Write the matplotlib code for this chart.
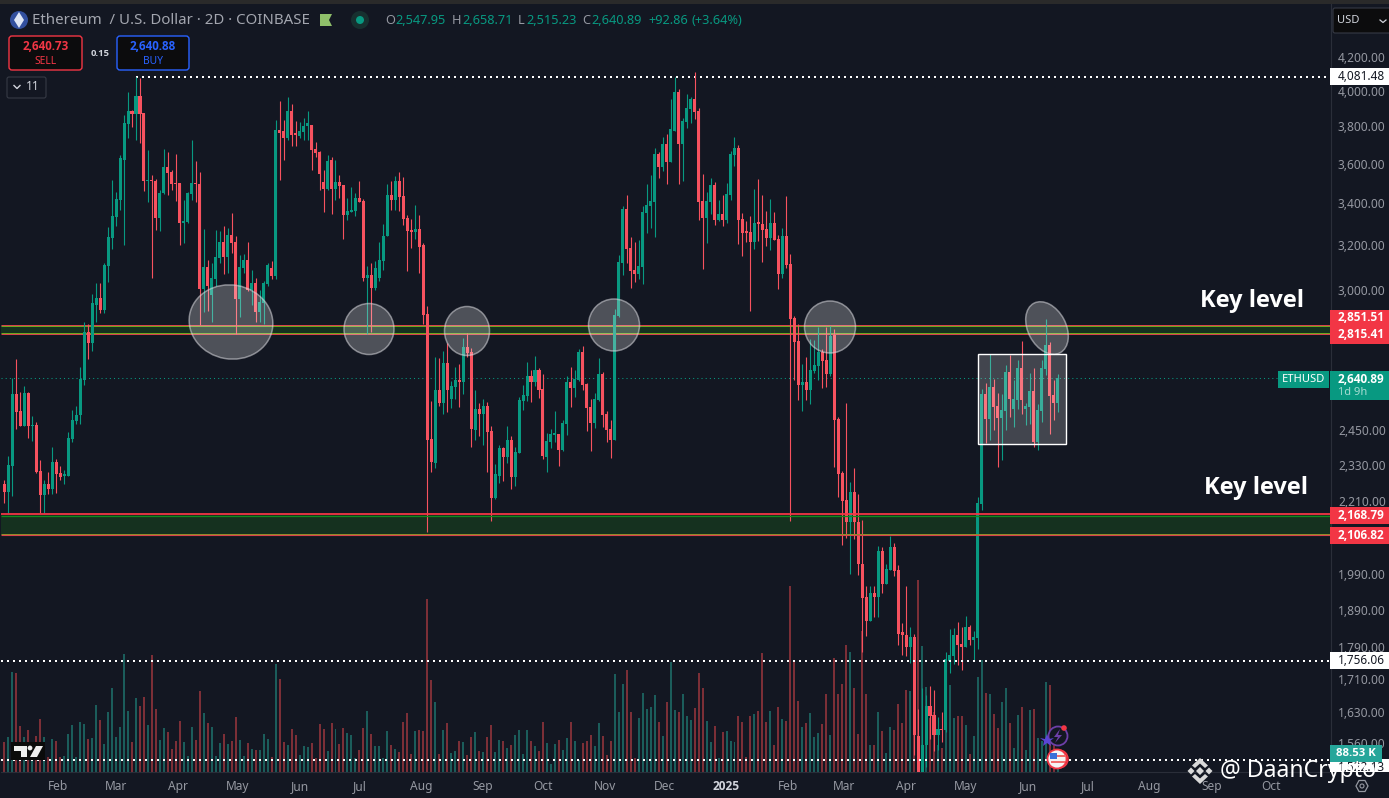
import numpy as np
import pandas as pd
import matplotlib
matplotlib.use("Agg")
import matplotlib.pyplot as plt
from matplotlib.patches import Ellipse, Rectangle, Polygon, Circle, FancyBboxPatch

# 2D candles, first bar is 2024-01-05
opens = [2268,2241,2327,2582,2519,2465,2586,2465,2469,2310,
         2232,2268,2251,2340,2304,2294,2294,2420,2483,2505,
         2634,2823,2779,2937,2966,2915,3106,3234,3334,3416,
         3620,3813,3886,3870,3970,3875,3512,3517,3512,3329,
         3451,3583,3558,3502,3502,3306,3311,3446,3502,3497,
         3004,3100,2979,3048,3142,3215,3147,3249,3215,2962,
         3095,3133,3000,3030,2907,2945,3026,3095,3061,3780,
         3775,3737,3886,3764,3748,3769,3802,3808,3678,3663,
         3507,3471,3620,3471,3507,3492,3344,3358,3363,3426,
         3411,3052,3066,3009,3052,3129,3244,3440,3416,3512,
         3436,3329,3272,3263,3277,3201,2898,2420,2337,2597,
         2549,2699,2564,2608,2634,2627,2763,2743,2451,2527,
         2509,2538,2448,2222,2294,2388,2357,2416,2291,2371,
         2556,2575,2649,2627,2673,2600,2357,2409,2434,2437,
         2381,2473,2627,2604,2634,2743,2619,2534,2476,2560,
         2657,2509,2455,2416,2890,3118,3373,3187,3088,3070,
         3100,3354,3387,3406,3652,3583,3705,3610,3775,3993,
         3705,3824,3897,3952,3886,3411,3329,3406,3492,3320,
         3349,3320,3440,3646,3684,3325,3263,3263,3215,3306,
         3301,3277,3234,3306,3230,3070,3244,3114,2882,2787,
         2615,2627,2597,2669,2688,2743,2711,2657,2811,2490,
         2304,2216,2147,2241,2144,2020,1924,1860,1937,1924,
         2056,1963,2003,2068,2003,1829,1823,1792,1818,1574,
         1470,1555,1645,1624,1576,1590,1588,1756,1769,1823,
         1800,1792,1844,1808,1815,2203,2582,2490,2608,2538,
         2494,2519,2665,2527,2560,2680,2527,2534,2593,2409,
         2519,2677,2771,2578,2547.95]
closes = [2241,2330,2582,2516,2465,2586,2465,2469,2307,2232,
          2268,2251,2340,2301,2291,2298,2423,2487,2505,2638,
          2823,2779,2945,2966,2915,3110,3239,3339,3421,3630,
          3819,3886,3870,3970,3870,3512,3517,3512,3329,3451,
          3583,3553,3497,3497,3306,3315,3451,3502,3497,3004,
          3100,3017,3052,3147,3215,3147,3249,3210,2962,3100,
          3133,3000,3030,2907,2949,3030,3110,3061,3780,3764,
          3737,3886,3753,3753,3775,3802,3819,3673,3658,3548,
          3471,3615,3471,3507,3487,3344,3363,3368,3426,3406,
          3052,3066,3009,3095,3133,3244,3440,3416,3512,3431,
          3325,3268,3263,3277,3192,2894,2416,2340,2597,2549,
          2699,2597,2612,2634,2627,2763,2739,2455,2527,2509,
          2538,2444,2222,2298,2388,2357,2416,2291,2374,2560,
          2578,2649,2627,2673,2597,2360,2412,2437,2437,2381,
          2476,2627,2604,2638,2743,2615,2530,2476,2564,2657,
          2505,2451,2416,2894,3124,3373,3182,3084,3070,3106,
          3358,3392,3411,3652,3583,3705,3610,3785,3993,3705,
          3830,3902,3952,3880,3406,3329,3411,3492,3320,3349,
          3320,3446,3652,3684,3320,3258,3258,3215,3306,3301,
          3272,3234,3306,3225,3070,3244,3110,2877,2783,2615,
          2627,2597,2673,2692,2743,2707,2657,2807,2487,2301,
          2213,2147,2241,2144,2018,1921,1860,1937,1924,2056,
          1963,2006,2068,2000,1826,1821,1792,1818,1578,1470,
          1555,1645,1621,1576,1590,1588,1759,1771,1823,1797,
          1792,1844,1808,1818,2206,2582,2490,2608,2534,2494,
          2523,2665,2564,2564,2680,2560,2538,2593,2409,2523,
          2680,2771,2575,2548,2640.89]
highs = [2280,2360,2642,2715,2590,2612,2590,2501,2480,2347,
         2281,2307,2391,2350,2327,2314,2444,2523,2538,2684,
         2865,2856,2983,3030,3030,3118,3286,3517,3456,3646,
         3863,3993,3891,4081,4075,3875,3673,3542,3522,3466,
         3678,3663,3568,3652,3502,3416,3456,3726,3615,3558,
         3277,3133,3118,3272,3268,3291,3282,3354,3244,3155,
         3160,3215,3088,3052,3000,3040,3118,3127,3835,3941,
         3835,3965,3924,3830,3824,3846,3886,3808,3715,3668,
         3568,3646,3636,3620,3542,3492,3426,3482,3451,3512,
         3421,3106,3118,3127,3215,3300,3497,3512,3537,3558,
         3532,3344,3325,3392,3344,3210,2932,2556,2723,2719,
         2747,2779,2630,2684,2696,2799,2819,2759,2597,2549,
         2564,2553,2465,2334,2398,2391,2465,2430,2391,2571,
         2615,2704,2673,2726,2680,2657,2441,2455,2519,2437,
         2487,2649,2684,2673,2755,2767,2623,2564,2586,2719,
         2665,2519,2487,2919,3155,3387,3440,3239,3215,3225,
         3387,3497,3542,3684,3663,3742,3758,3952,4081,4010,
         3846,3982,3965,4108,3902,3548,3456,3527,3507,3416,
         3440,3502,3668,3742,3700,3354,3315,3339,3471,3522,
         3440,3363,3421,3358,3249,3282,3436,3160,2890,2856,
         2696,2723,2795,2791,2843,2755,2843,2848,2835,2498,
         2310,2549,2274,2320,2235,2153,1957,1957,1957,2071,
         2068,2018,2104,2080,2015,1855,1957,1844,1826,1638,
         1689,1670,1692,1684,1618,1631,1779,1837,1842,1858,
         1844,1874,1850,1834,2225,2600,2623,2735,2638,2586,
         2582,2692,2731,2634,2711,2787,2549,2660,2680,2545,
         2711,2877,2783,2634,2658.71]
lows = [2206,2172,2229,2455,2465,2465,2423,2412,2304,2172,
        2172,2235,2235,2238,2281,2265,2294,2409,2473,2473,
        2615,2715,2747,2865,2902,2902,3035,3182,3291,3368,
        3201,3737,3797,3726,3710,3461,3406,3052,3272,3268,
        3446,3440,3466,3411,3201,3210,3306,3416,3406,2852,
        2907,2911,2865,3017,3118,3070,3075,3165,2815,2885,
        3075,2995,2936,2865,2865,2856,3017,3048,3048,3517,
        3620,3726,3695,3695,3737,3726,3726,3568,3636,3466,
        3358,3466,3349,3416,3426,3230,3320,3358,3339,3406,
        3040,2815,2823,3000,3040,3088,3244,3368,3368,3363,
        3296,3084,3187,3230,3075,2856,2116,2307,2320,2538,
        2509,2516,2530,2564,2534,2582,2725,2391,2416,2430,
        2398,2307,2150,2219,2271,2278,2337,2251,2261,2371,
        2523,2556,2553,2612,2568,2350,2307,2388,2409,2327,
        2378,2434,2534,2571,2630,2597,2448,2378,2458,2556,
        2462,2409,2353,2416,2885,3066,3118,3009,3035,3048,
        3026,3258,3282,3239,3527,3563,3497,3610,3775,3497,
        3512,3791,3819,3841,3320,3092,3210,3349,3296,3315,
        3291,3306,3416,3589,3206,3150,3215,2911,3182,3220,
        3124,3197,3178,3225,3004,3052,3095,2150,2634,2560,
        2519,2560,2545,2662,2634,2604,2608,2649,2324,2225,
        2074,2095,1991,2092,1988,1777,1820,1860,1871,1871,
        1937,1963,2003,1983,1797,1771,1769,1751,1533,1385,
        1440,1505,1567,1540,1544,1562,1583,1724,1748,1746,
        1733,1792,1797,1756,1787,2184,2405,2416,2451,2324,
        2347,2451,2498,2462,2527,2509,2469,2473,2391,2381,
        2480,2654,2437,2487,2515.23]
# thousands of ETH
volumes = [140,163,466,461,214,163,196,134,168,247,
           163,70,154,144,70,75,177,219,70,233,
           224,154,158,312,242,130,280,391,163,210,
           550,284,140,345,307,349,219,545,294,149,
           205,186,107,144,238,140,75,210,149,377,
           275,228,210,75,135,177,130,144,256,149,
           75,135,107,102,102,177,154,70,503,433,
           140,126,200,172,79,121,116,135,65,224,
           200,98,228,200,130,205,182,172,65,102,
           205,284,177,121,121,65,191,126,107,93,
           233,275,84,191,196,191,806,429,326,84,
           196,228,89,98,144,140,79,163,186,98,
           93,163,219,93,149,144,112,126,172,196,
           84,196,144,121,98,233,135,37,130,149,
           102,158,233,144,56,135,144,172,121,228,
           168,79,144,457,280,410,475,280,65,252,
           368,294,303,359,233,168,326,512,289,280,
           363,261,242,298,461,391,238,140,214,65,
           186,191,144,140,261,233,70,261,270,284,
           554,233,284,126,303,247,238,867,512,331,
           210,228,275,163,182,224,363,172,531,363,
           410,592,559,391,177,657,363,126,126,280,
           191,89,210,196,317,228,382,377,380,895,
           587,396,250,280,126,112,430,405,252,261,
           261,219,84,168,443,522,368,363,270,205,
           326,391,228,112,266,303,102,289,294,158,
           144,419,405,130,88.53]

month_dates = ["2024-02-01","2024-03-01","2024-04-01","2024-05-01","2024-06-01","2024-07-01",
               "2024-08-01","2024-09-01","2024-10-01","2024-11-01","2024-12-01","2025-01-01",
               "2025-02-01","2025-03-01","2025-04-01","2025-05-01","2025-06-01","2025-07-01",
               "2025-08-01","2025-09-01","2025-10-01"]
month_labels = ["Feb","Mar","Apr","May","Jun","Jul","Aug","Sep","Oct","Nov","Dec","2025",
                "Feb","Mar","Apr","May","Jun","Jul","Aug","Sep","Oct"]
price_ticks = [4200,4000,3800,3600,3400,3200,3000,2450,2330,2210,1990,1890,1790,1710,1630,1560]
price_tick_labels = ["4,200.00","4,000.00","3,800.00","3,600.00","3,400.00","3,200.00","3,000.00",
                     "2,450.00","2,330.00","2,210.00","1,990.00","1,890.00","1,790.00","1,710.00",
                     "1,630.00","1,560.00"]
upper_zone = [2815.41, 2851.51]
lower_zone = [2106.82, 2168.79]
dotted_levels = [4081.48, 1756.06, 1522.13]
last_price = 2640.89

BG = "#131722"
GREEN = "#089981"
RED = "#f7525f"
GREY = "#9598a1"
FONT = "Noto Sans"
BOLD = "Open Sans"

plt.rcParams["font.family"] = [FONT, "DejaVu Sans"]

o = np.array(opens, float)
c = np.array(closes, float)
h = np.array(highs, float)
l = np.array(lows, float)
v = np.array(volumes, float)
x = np.arange(len(c))
up = c >= o
colors = np.where(up, GREEN, RED)

fig = plt.figure(figsize=(13.89, 7.98), dpi=100, facecolor=BG)
rect = [1/1389, 26/798, 1330/1389, 768/798]
xlim = (-0.835, 332.5)

# volume sits behind the candles
vol_ax = fig.add_axes(rect, zorder=1, facecolor=BG)
vol_ax.bar(x, v, width=0.5, color=np.where(up, "#1b5d5b", "#7c2f37"), linewidth=0)
vol_ax.set_xlim(*xlim)
vol_ax.set_ylim(0, 3579)
vol_ax.axis("off")

ax = fig.add_axes(rect, zorder=2)
ax.patch.set_visible(False)
ax.set_yscale("log")
ax.set_xlim(*xlim)
ax.set_ylim(1495, 4535)

for z in (upper_zone, lower_zone):
    ax.axhspan(z[0], z[1], color="#15311f", lw=0, zorder=1)
ax.hlines(upper_zone[1], *xlim, color="#d9434b", lw=0.72, zorder=1.5)
ax.hlines(upper_zone[1]*0.9985, *xlim, color="#6fa51f", lw=0.72, zorder=1.5)
ax.hlines(upper_zone[0]*1.0015, *xlim, color="#6fa51f", lw=0.72, zorder=1.5)
ax.hlines(upper_zone[0], *xlim, color="#d9434b", lw=0.72, zorder=1.5)
ax.hlines(lower_zone[1]*1.0008, *xlim, color="#f23645", lw=1.3, zorder=3.5)
ax.hlines(lower_zone[1]*0.998, *xlim, color="#138a1c", lw=0.9, zorder=3.5)
ax.hlines(lower_zone[0]*1.0012, *xlim, color="#8f8f2a", lw=0.72, zorder=3.5)
ax.hlines(lower_zone[0]*0.9988, *xlim, color="#d9434b", lw=0.8, zorder=3.5)

ax.hlines(last_price, xlim[0], 319, color=GREEN, lw=0.75, ls=(0, (1, 3)), zorder=1.5)

ax.vlines(x, l, h, colors=colors, lw=0.8, zorder=3)
body_low = np.minimum(o, c)
body_top = np.maximum(np.maximum(o, c), body_low*1.002)
ax.bar(x, body_top-body_low, bottom=body_low, width=0.76, color=colors, linewidth=0, zorder=3.2)

ax.hlines(dotted_levels[0], 33, xlim[1], color="white", lw=1.44, ls=(0, (1, 2)), zorder=2.5)
ax.hlines(dotted_levels[1:], *xlim, color="white", lw=1.44, ls=(0, (1, 2)), zorder=4)

ax.yaxis.tick_right()
ax.set_yticks(price_ticks, price_tick_labels)
ax.minorticks_off()
start = pd.Timestamp("2024-01-05")
ax.set_xticks([(pd.Timestamp(d)-start).days/2 for d in month_dates], month_labels)
ax.tick_params(axis="y", length=0, pad=5, labelsize=8.6, labelcolor=GREY)
ax.tick_params(axis="x", length=0, pad=6, labelsize=8.6, labelcolor=GREY)
for t in ax.get_xticklabels():
    if t.get_text() == "2025":
        t.set_color("#d1d4dc")
        t.set_fontweight("bold")
        t.set_family(BOLD)
for s in ("top", "left"):
    ax.spines[s].set_visible(False)
for s in ("right", "bottom"):
    ax.spines[s].set_color("#2a2e39")

# everything else is screen furniture, placed in pixels
ui = fig.add_axes([0, 0, 1, 1], zorder=3)
ui.set_xlim(0, 1389)
ui.set_ylim(798, 0)
ui.axis("off")
fig.canvas.draw()


def py(price):
    return 798 - ax.transData.transform((0, price))[1]


def tag(y, text, bg, fg, bold=False, x0=1330, x1=1389, hgt=17):
    ui.add_patch(Rectangle((x0, y-hgt/2), x1-x0, hgt, color=bg, lw=0, zorder=5))
    ui.text(x0+8, y, text, color=fg, fontsize=8.5, fontweight="bold" if bold else "normal",
            family=BOLD if bold else FONT, va="center", ha="left", zorder=6)


ui.add_patch(Rectangle((0, 0), 1389, 4, color="#2a2a2a", lw=0))

# hand drawn circles and the range box
for cx, cy, w, hh, ang in [(231, 322, 84, 74, 10), (369, 329, 50, 51, 0), (467, 331, 45, 49, 0),
                           (614, 325, 51, 52, 0), (830, 327, 51, 52, 0), (1047, 328, 56, 38, 62)]:
    ui.add_patch(Ellipse((cx, cy), w, hh, angle=ang, facecolor=(1, 1, 1, 0.25),
                         edgecolor=(0.85, 0.85, 0.87, 0.55), lw=1.1, zorder=2))
ui.add_patch(Rectangle((977.5, 353.5), 88, 90.5, facecolor=(1, 1, 1, 0.2), edgecolor="white", lw=1.0, zorder=2))

ui.text(1252.5, 301, "Key level", color="white", fontsize=17, fontweight="bold", family=BOLD,
        ha="center", va="center", zorder=3)
ui.text(1256.5, 488, "Key level", color="white", fontsize=17, fontweight="bold", family=BOLD,
        ha="center", va="center", zorder=3)

# header
ui.add_patch(Circle((19, 20), 9, color="#33509e", lw=0))
ui.add_patch(Polygon([(19, 12), (24, 20), (19, 28), (14, 20)], color="#dfe6f5", lw=0))
ui.text(32, 20, "Ethereum  / U.S. Dollar · 2D · COINBASE", color="#a3a6af", fontsize=10.8, va="center")
ui.add_patch(Polygon([(320, 14), (332, 14), (329, 20), (332, 26), (320, 26)], color="#8fbf6a", lw=0))
ui.add_patch(Circle((360, 20), 9, color="#17302f", lw=0))
ui.add_patch(Circle((360, 20), 4, color=GREEN, lw=0))
for px, s, col in [(385, "O", GREY), (395, "2,547.95", GREEN), (452, "H", GREY), (462, "2,658.71", GREEN),
                   (518, "L", GREY), (526, "2,515.23", GREEN), (582, "C", GREY), (591, "2,640.89", GREEN),
                   (648, "+92.86", GREEN), (691, "(+3.64%)", GREEN)]:
    ui.text(px, 20, s, color=col, fontsize=9.2, va="center")

# sell and buy buttons
for x0, w, col, val, name in [(9, 73, "#f23645", "2,640.73", "SELL"), (117, 72, "#2962ff", "2,640.88", "BUY")]:
    ui.add_patch(FancyBboxPatch((x0+3, 39), w-6, 28, boxstyle="round,pad=3", facecolor="#0c0c0d", edgecolor=col, lw=1))
    ui.text(x0+w/2, 46, val, color=col, fontsize=8.4, fontweight="bold", family=BOLD, ha="center", va="center")
    ui.text(x0+w/2, 61, name, color=col, fontsize=7.4, ha="center", va="center")
ui.text(100, 53, "0.15", color="#d1d4dc", fontsize=6.8, fontweight="bold", family=BOLD, ha="center", va="center")
ui.add_patch(FancyBboxPatch((9, 79), 35, 17, boxstyle="round,pad=2", facecolor=BG, edgecolor="#363a45", lw=0.8))
ui.plot([14, 17, 20], [85.5, 88.5, 85.5], color="#d1d4dc", lw=1)
ui.text(33, 87, "11", color="#d1d4dc", fontsize=8.6, ha="center", va="center")

# right hand scale
ui.add_patch(FancyBboxPatch((1335, 10), 60, 21, boxstyle="round,pad=2", facecolor="#0c0c0d", edgecolor="#363a45", lw=0.8))
ui.text(1337, 20.5, "USD", color="#d1d4dc", fontsize=8, va="center")
ui.plot([1380, 1383, 1386], [20, 22.5, 20], color="#d1d4dc", lw=0.9)

tag(py(dotted_levels[0]), "4,081.48", "white", "#131722")
ui.add_patch(Rectangle((1330, 310), 59, 34, color="#f23645", lw=0, zorder=5))
ui.text(1338, 317.5, "2,851.51", color="white", fontsize=8.5, fontweight="bold", family=BOLD, va="center", zorder=6)
ui.text(1338, 335, "2,815.41", color="white", fontsize=8.5, fontweight="bold", family=BOLD, va="center", zorder=6)
ui.add_patch(Rectangle((1278, 371), 51, 17, color=GREEN, lw=0, zorder=5))
ui.text(1303.5, 379.5, "ETHUSD", color="white", fontsize=8, ha="center", va="center", zorder=6)
ui.add_patch(Rectangle((1330, 371), 59, 29, color=GREEN, lw=0, zorder=5))
ui.text(1338, 379.5, "2,640.89", color="white", fontsize=8.5, fontweight="bold", family=BOLD, va="center", zorder=6)
ui.text(1338, 392.5, "1d 9h", color="#a5dcd2", fontsize=8, va="center", zorder=6)
tag(515.5, "2,168.79", "#f23645", "white", True)
tag(535.5, "2,106.82", "#f23645", "white", True)
tag(py(dotted_levels[1]), "1,756.06", "white", "#131722")
tag(py(dotted_levels[2])+8, "1,522.13", "white", "#131722")
ui.add_patch(Rectangle((1330, 772), 59, 26, color=BG, lw=0, zorder=6.5))
ui.add_patch(Rectangle((1330, 745), 52, 17, color="#26a69a", lw=0, zorder=7))
ui.text(1356, 753.5, "88.53 K", color="white", fontsize=8.2, fontweight="bold", family=BOLD, ha="center", va="center", zorder=8)
ui.add_patch(Polygon([(1356, 786), (1359, 780.5), (1365, 780.5), (1368, 786), (1365, 791.5), (1359, 791.5)],
                     fill=False, edgecolor="#9598a1", lw=0.9, zorder=8))
ui.add_patch(Circle((1362, 786), 2, fill=False, edgecolor="#9598a1", lw=0.8, zorder=8))

# TradingView mark
ui.add_patch(Rectangle((11, 742), 34, 18, color="#0b0b0b", lw=0, zorder=5))
ui.add_patch(Polygon([(14, 746), (27, 746), (27, 757), (21, 757), (21, 751), (14, 751)], color="#eeeeee", lw=0, zorder=6))
ui.add_patch(Circle((30, 748), 2.4, color="#eeeeee", lw=0, zorder=6))
ui.add_patch(Polygon([(36, 746), (43, 746), (37, 757), (30, 757)], color="#eeeeee", lw=0, zorder=6))

# chart event badges
ui.add_patch(Circle((1058, 736), 9.5, facecolor=BG, edgecolor="#6d3fa8", lw=1.3, zorder=6))
ui.add_patch(Polygon([(1060, 729), (1054, 737), (1058, 737), (1055, 743), (1062, 735), (1058, 735)], color="#6d3fa8", lw=0, zorder=7))
ui.add_patch(Circle((1064, 728), 2.8, color="#f23645", lw=0, zorder=7))
ui.add_patch(Polygon([(1047, 734), (1049, 739), (1054, 738), (1050, 741), (1051, 746), (1047, 743), (1043, 746), (1044, 741), (1040, 738), (1045, 739)],
                     color="#5b45d6", lw=0, zorder=7))
ui.add_patch(Circle((1059, 759), 9, facecolor="none", edgecolor="#f23645", lw=1.1, zorder=6))
ui.add_patch(Circle((1057, 759), 9.5, facecolor="#f4f4f4", edgecolor="#f23645", lw=1.3, zorder=7))
ui.add_patch(Rectangle((1050, 753), 7, 6, color="#3a6fd8", lw=0, zorder=8))
ui.plot([1052, 1064], [762, 762], color="#f26a6a", lw=1.4, zorder=8)
ui.plot([1058, 1065], [756, 756], color="#f26a6a", lw=1.4, zorder=8)

# watermark
ui.add_patch(Polygon([(1200, 767), (1204, 771), (1200, 775), (1196, 771)], color="#d9d9d9", lw=0, zorder=9))
ui.add_patch(Polygon([(1191, 767.5), (1194.5, 771), (1191, 774.5), (1187.5, 771)], color="#d9d9d9", lw=0, zorder=9))
ui.add_patch(Polygon([(1209, 767.5), (1212.5, 771), (1209, 774.5), (1205.5, 771)], color="#d9d9d9", lw=0, zorder=9))
ui.add_patch(Polygon([(1200, 758), (1208, 765.5), (1205, 768), (1200, 763.5), (1195, 768), (1192, 765.5)], color="#d9d9d9", lw=0, zorder=9))
ui.add_patch(Polygon([(1200, 784), (1208, 776.5), (1205, 774), (1200, 778.5), (1195, 774), (1192, 776.5)], color="#d9d9d9", lw=0, zorder=9))
ui.text(1220, 771, "@ DaanCrypto", color="white", fontsize=16.6, va="center", zorder=9)

fig.savefig("out.png", dpi=100, facecolor=BG)
